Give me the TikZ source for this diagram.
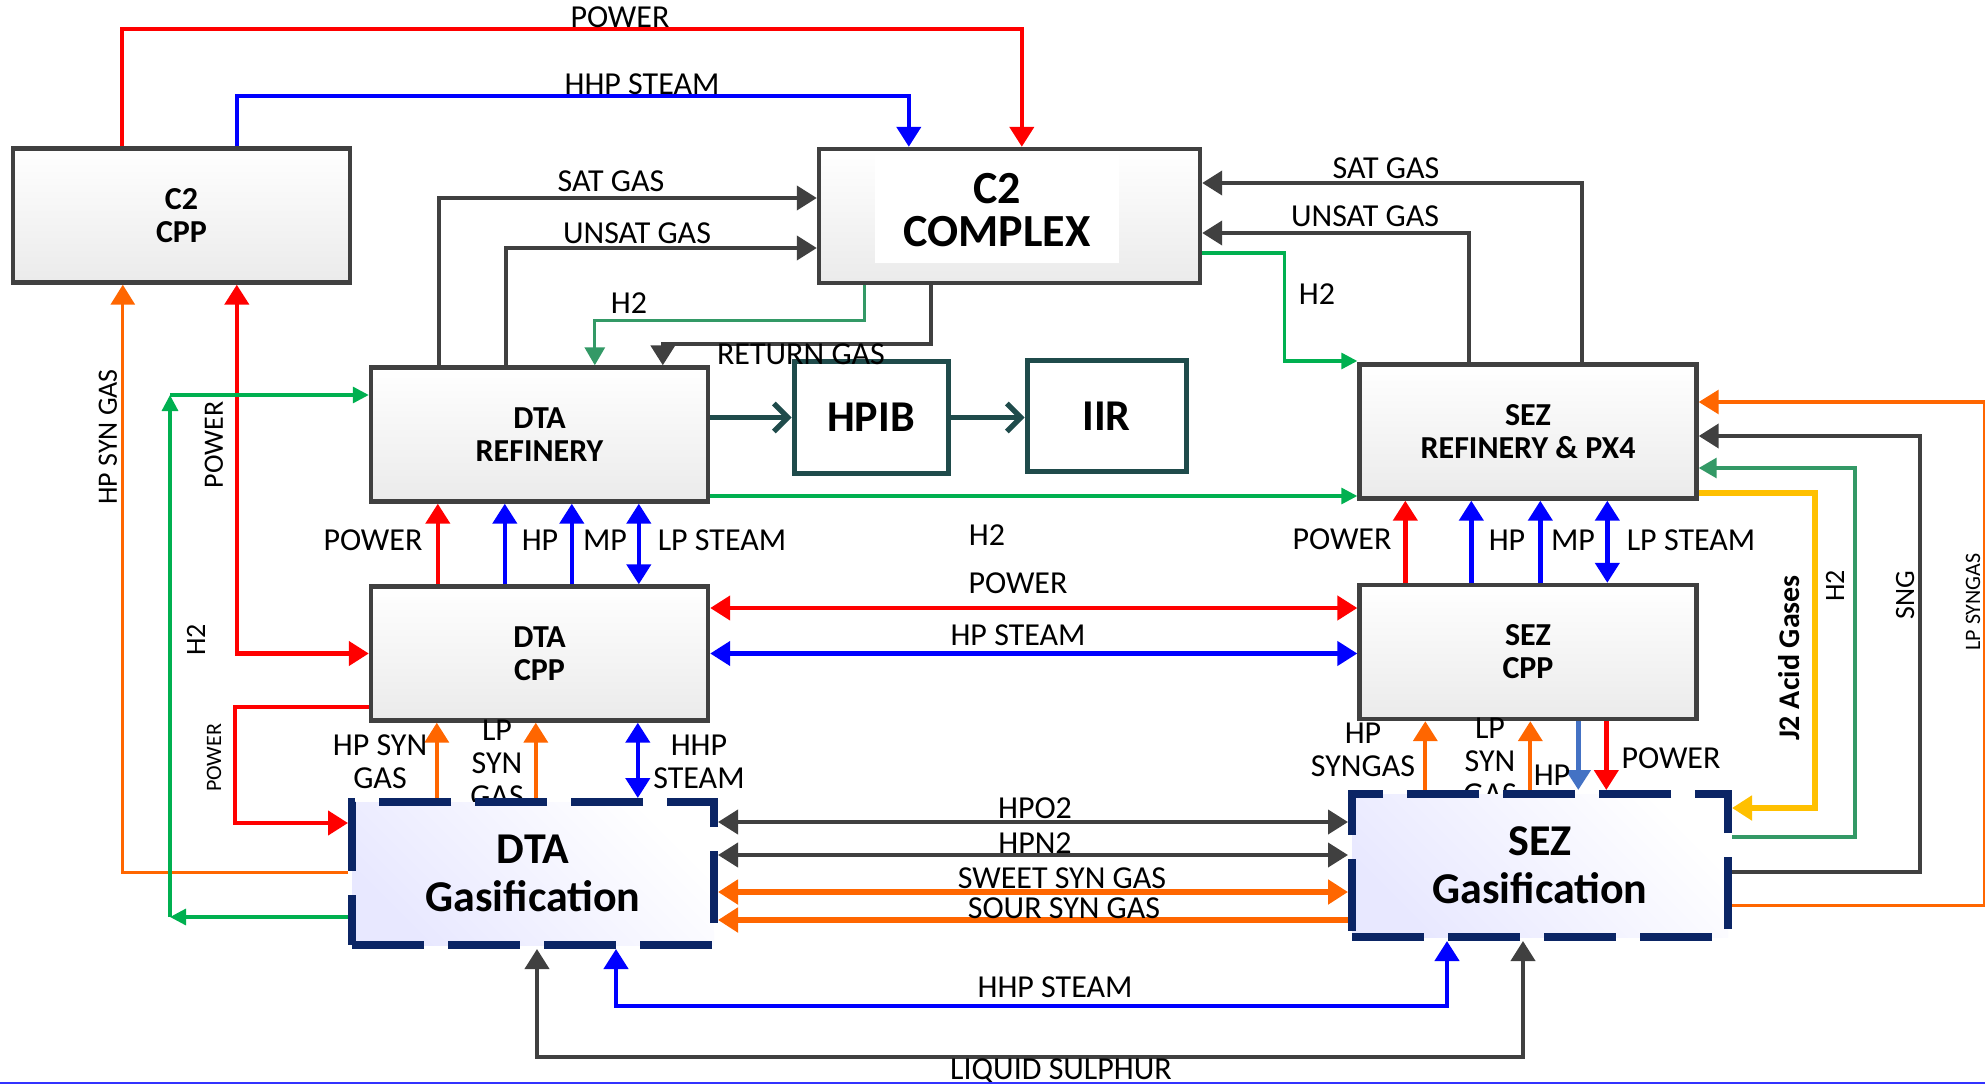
\documentclass[tikz,border=0pt]{standalone}
\usepackage{fontspec}
\setmainfont{Carlito}
\usetikzlibrary{arrows.meta}

\definecolor{ln}{HTML}{404040}
\definecolor{pwrred}{HTML}{FF0000}
\definecolor{stmblue}{HTML}{0000FF}
\definecolor{hpltblue}{HTML}{4472C4}
\definecolor{syngo}{HTML}{FF6600}
\definecolor{htwogr}{HTML}{00B050}
\definecolor{htwodk}{HTML}{339966}
\definecolor{acidy}{HTML}{FFC000}
\definecolor{hpteal}{HTML}{1F4B4B}
\definecolor{gasnavy}{HTML}{0B2565}

\tikzset{
  unit/.style={draw=ln, line width=2.2pt, top color=white, bottom color=black!8,
    minimum width=168.5pt, minimum height=67pt, inner sep=0pt, align=center,
    font=\bfseries\fontsize{16}{16.5}\selectfont},
  tealunit/.style={draw=hpteal, line width=2.5pt, fill=white, minimum width=77pt,
    minimum height=55.5pt, font=\bfseries\fontsize{22}{26}\selectfont},
  gasunit/.style={draw=gasnavy, line width=4pt, dash pattern=on 36pt off 12pt,
    left color=blue!9!white, right color=white, shading angle=135, minimum width=181pt,
    minimum height=71.5pt, align=center, font=\bfseries\fontsize{22}{24}\selectfont},
  lbl/.style={inner sep=0pt, align=center, font=\fontsize{16}{16.5}\selectfont},
  vlbl/.style={inner sep=0pt, rotate=90, font=\fontsize{14}{16}\selectfont},
  smlbl/.style={inner sep=0pt, rotate=90, font=\fontsize{11}{13}\selectfont},
  pwr/.style={draw=pwrred, line width=2.2pt},
  stm/.style={draw=stmblue, line width=2.2pt},
  hpstm/.style={draw=hpltblue, line width=2.6pt},
  gas/.style={draw=ln, line width=2pt},
  syn/.style={draw=syngo, line width=2pt},
  synthin/.style={draw=syngo, line width=1.5pt},
  synthick/.style={draw=syngo, line width=3pt},
  htwo/.style={draw=htwogr, line width=1.6pt, >={Triangle[length=8pt,width=8pt]}},
  htwodark/.style={draw=htwodk, line width=1.6pt, >={Triangle[length=9pt,width=10pt]}},
  acid/.style={draw=acidy, line width=3pt},
  tealln/.style={draw=hpteal, line width=2.6pt, -{Straight Barb[length=7pt,width=14pt]}},
}

\begin{document}
\begin{tikzpicture}[x=0.5pt, y=-0.5pt, >={Triangle[length=10pt,width=12pt]}]
  \useasboundingbox (0,0) rectangle (1985,1085);

  % units
  \node[unit] (c2cpp) at (181.5,215.5) {C2\\CPP};
  \node[unit, minimum width=190.5pt, font=\bfseries\fontsize{23}{20}\selectfont,
    path picture={\fill[white] ([xshift=28pt,yshift=-3pt]path picture bounding box.north west)
      rectangle ([xshift=-40.5pt,yshift=10pt]path picture bounding box.south east);}]
    (c2cx) at (1009.5,216) {\hspace*{-12.5pt}\raisebox{3pt}{\begin{tabular}{@{}c@{}}C2\\COMPLEX\end{tabular}}};
  \node[unit] (dtaref) at (539.5,434.5) {DTA\\REFINERY};
  \node[unit] (dtacpp) at (539.5,653.5) {DTA\\CPP};
  \node[unit] (sezref) at (1528,431.5) {SEZ\\REFINERY \& PX4};
  \node[unit] (sezcpp) at (1528,652) {SEZ\\CPP};
  \node[tealunit] (hpib) at (871,417.5) {HPIB};
  \node[tealunit, minimum width=79.5pt] (iir) at (1106.5,416) {IIR};

  % labels partly hidden by the gasification units
  \node[lbl] (dlpsyn) at (497,763) {LP\\SYN\\GAS};
  \node[lbl] (slpsyn) at (1490,761) {LP\\SYN\\GAS};

  \node[gasunit] (dtagas) at (533,873.5) {DTA\\Gasification};
  \node[gasunit, minimum width=188pt] (sezgas) at (1540,865.5) {SEZ\\Gasification};

  % feeds to C2 complex
  \draw[pwr,->] ([xshift=55.5pt]c2cpp.north west) -- ++(0,-117) -| ([xshift=102.5pt]c2cx.north west);
  \draw[stm,->] ([xshift=113pt]c2cpp.north west) -- ++(0,-50) -| ([xshift=46pt]c2cx.north west);
  \draw[gas,->] ([xshift=35pt]dtaref.north west) |- ([yshift=9pt]c2cx.west);
  \draw[gas,->] ([xshift=68.5pt]dtaref.north west) |- ([yshift=-16pt]c2cx.west);
  \draw[gas,->] ([xshift=112.5pt]sezref.north west) |- ([yshift=16.5pt]c2cx.east);
  \draw[gas,->] ([xshift=56pt]sezref.north west) |- ([yshift=-8.5pt]c2cx.east);
  \draw[htwodark,->] ([xshift=24pt]c2cx.south west) -- ++(0,35) -| ([xshift=113pt]dtaref.north west);
  \draw[gas,->] ([xshift=57pt]c2cx.south west) -- ++(0,59) -| ([xshift=147pt]dtaref.north west);
  \draw[htwo,->] ([yshift=-18.5pt]c2cx.east) -- ++(82,0) |- ([yshift=35.25pt]sezref.west);

  % left side
  \draw[synthin,->] ([yshift=0.75pt]dtagas.west) -| ([xshift=56pt]c2cpp.south west);
  \draw[pwr,<->] ([xshift=113pt]c2cpp.south west) |- (dtacpp.west);
  \coordinate (h2lo) at (170,917);
  \coordinate (h2hi) at (170,395);
  \draw[htwo,->] ([yshift=-21.75pt]dtagas.west) -- (h2lo);
  \draw[htwo,->] (h2lo) -- (h2hi);
  \draw[htwo,->] (h2hi) -- ([yshift=19.75pt]dtaref.west);
  \draw[pwr,->] ([yshift=-26.75pt]dtacpp.west) -- ++(-134,0) |- ([yshift=25.25pt]dtagas.west);

  % cpp to refinery
  \draw[pwr,->] ([xshift=34.5pt]dtacpp.north west) -- ([xshift=34.5pt]dtaref.south west);
  \foreach \dx in {68,101.5}
    \draw[stm,->] ([xshift=\dx pt]dtacpp.north west) -- ([xshift=\dx pt]dtaref.south west);
  \draw[stm,<->] ([xshift=135pt]dtacpp.north west) -- ([xshift=135pt]dtaref.south west);
  \draw[pwr,->] ([xshift=24pt]sezcpp.north west) -- ([xshift=24pt]sezref.south west);
  \foreach \dx in {57,91.5}
    \draw[stm,->] ([xshift=\dx pt]sezcpp.north west) -- ([xshift=\dx pt]sezref.south west);
  \draw[stm,<->] ([xshift=125pt]sezcpp.north west) -- ([xshift=125pt]sezref.south west);

  % DTA to SEZ
  \draw[tealln] ([yshift=8.5pt]dtaref.east) -- (hpib.west);
  \draw[tealln] (hpib.east) -- (hpib.east -| iir.west);
  \coordinate (h2mid) at ([yshift=-30.75pt]dtaref.east);
  \draw[htwo,->] (h2mid) -- (h2mid -| sezref.west);
  \coordinate (pwrmid) at ([yshift=22.75pt]dtacpp.east);
  \draw[pwr,<->] (pwrmid) -- (pwrmid -| sezcpp.west);
  \draw[stm,<->] (dtacpp.east) -- (dtacpp.east -| sezcpp.west);

  % gasification to cpp
  \coordinate (dg1) at ([xshift=34pt]dtacpp.south west);
  \coordinate (dg2) at ([xshift=83.5pt]dtacpp.south west);
  \coordinate (dg3) at ([xshift=134.5pt]dtacpp.south west);
  \draw[syn,->] (dg1 |- dtagas.north) -- (dg1);
  \draw[syn,->] (dg2 |- dtagas.north) -- (dg2);
  \draw[stm,<->] (dg3 |- dtagas.north) -- (dg3);
  \coordinate (sg1) at ([xshift=34pt]sezcpp.south west);
  \coordinate (sg2) at ([xshift=86.5pt]sezcpp.south west);
  \coordinate (sg3) at ([xshift=110.5pt]sezcpp.south west);
  \coordinate (sg4) at ([xshift=124.5pt]sezcpp.south west);
  \draw[syn,->] (sg1 |- sezgas.north) -- (sg1);
  \draw[syn,->] (sg2 |- sezgas.north) -- (sg2);
  \draw[hpstm,->] (sg3) -- (sg3 |- sezgas.north);
  \draw[pwr,->] (sg4) -- (sg4 |- sezgas.north);

  % between gasification units
  \foreach \n/\dy in {o/25.75, n/9.25} {
    \coordinate (g\n) at ([yshift=\dy pt]dtagas.east);
    \draw[gas,<->] (g\n) -- (g\n -| sezgas.west);
  }
  \coordinate (gsw) at ([yshift=-9.25pt]dtagas.east);
  \draw[synthick,<->] (gsw) -- (gsw -| sezgas.west);
  \coordinate (gso) at ([yshift=-23.25pt]dtagas.east);
  \draw[synthick,<-] (gso) -- (gso -| sezgas.west);
  \draw[stm,<->] ([xshift=134pt]dtagas.south west) -- ++(0,57) -| ([xshift=49.5pt]sezgas.south west);
  \draw[gas,<->] ([xshift=94.5pt]dtagas.south west) -- ++(0,108) -| ([xshift=87.5pt]sezgas.south west);

  % right side
  \draw[synthin,->] ([yshift=-19.75pt]sezgas.east) -- ++(252,0) |- ([yshift=14.75pt]sezref.east);
  \draw[gas,->] ([yshift=-3.25pt]sezgas.east) -- ++(188,0) |- ([yshift=-2.25pt]sezref.east);
  \draw[htwodark,->] ([yshift=14.25pt]sezgas.east) -- ++(123,0) |- ([yshift=-18.25pt]sezref.east);
  \draw[acid,->] ([yshift=-30.75pt]sezref.east) -- ++(116,0) |- ([yshift=28.75pt]sezgas.east);

  % stream labels
  \node[lbl] (tpow) at (620,17) {POWER};
  \node[lbl] (thhp) at (642,84) {HHP STEAM};
  \node[lbl] (lsat) at (611,181) {SAT GAS};
  \node[lbl] (lunsat) at (637,233) {UNSAT GAS};
  \node[lbl] (lh2a) at (629,303) {H2};
  \node[lbl] (lret) at (801,354) {RETURN GAS};
  \node[lbl] (lh2b) at (1317,294) {H2};
  \node[lbl] (rsat) at (1386,168) {SAT GAS};
  \node[lbl] (runsat) at (1365,216) {UNSAT GAS};
  \node[vlbl] (lhpsyn) at (108,437) {HP SYN GAS};
  \node[vlbl] (lpowv) at (214,445) {POWER};
  \node[vlbl] (lh2v) at (196,640) {H2};
  \node[smlbl] (lpows) at (214,758) {POWER};
  \node[lbl] (dpow) at (373,540) {POWER};
  \node[lbl] (dhp) at (540,540) {HP};
  \node[lbl] (dmp) at (605,540) {MP};
  \node[lbl] (dlp) at (722,540) {LP STEAM};
  \node[lbl] (spow) at (1342,539) {POWER};
  \node[lbl] (shp) at (1507,540) {HP};
  \node[lbl] (smp) at (1573,540) {MP};
  \node[lbl] (slp) at (1691,540) {LP STEAM};
  \node[lbl] (mh2) at (987,535) {H2};
  \node[lbl] (mpow) at (1018,583) {POWER};
  \node[lbl] (mhps) at (1018,635) {HP STEAM};
  \node[lbl] (dhpsyn) at (380,762) {HP SYN\\GAS};
  \node[lbl] (dhhp) at (699,762) {HHP\\STEAM};
  \node[lbl] (shpsyn) at (1363,750) {HP\\SYNGAS};
  \node[lbl] (shp2) at (1552,775) {HP};
  \node[lbl] (spow2) at (1671,758) {POWER};
  \node[lbl] (lhpo) at (1035,808) {HPO2};
  \node[lbl] (lhpn) at (1035,843) {HPN2};
  \node[lbl] (lsweet) at (1062,878) {SWEET SYN GAS};
  \node[lbl] (lsour) at (1064,908) {SOUR SYN GAS};
  \node[lbl] (bhhp) at (1055,987) {HHP STEAM};
  \node[lbl] (bsul) at (1061,1071) {LIQUID SULPHUR};
  \node[vlbl, font=\bfseries\fontsize{15}{17}\selectfont] (racid) at (1789,658) {J2 Acid Gases};
  \node[vlbl] (rh2) at (1835,586) {H2};
  \node[vlbl] (rsng) at (1905,595) {SNG};
  \node[smlbl] (rlpsyn) at (1973,602) {LP SYNGAS};

  \draw[stmblue!80, line width=1pt] (0,1083) -- (1985,1083);
\end{tikzpicture}
\end{document}
